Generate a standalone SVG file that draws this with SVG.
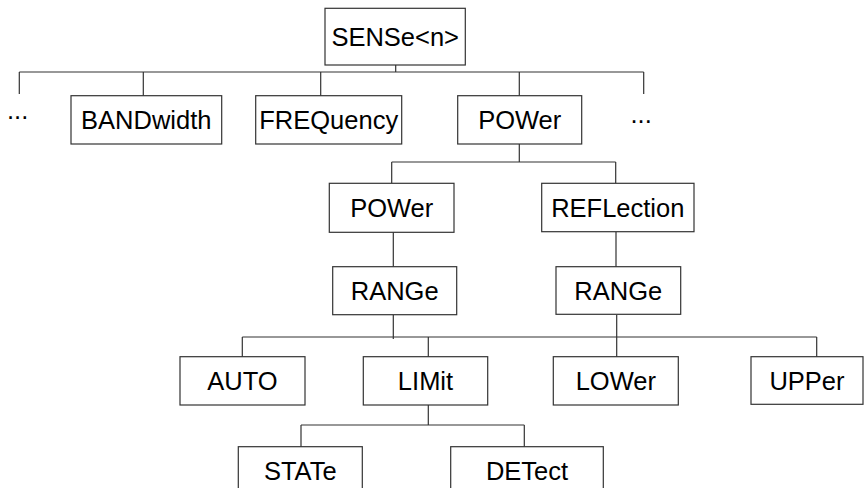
<svg xmlns="http://www.w3.org/2000/svg" width="864" height="488" viewBox="0 0 864 488">
<style>
.box{fill:#fff;stroke:#333;stroke-width:1.2}
.lbl{font-family:"Liberation Sans",Arial,sans-serif;font-size:25.5px;fill:#000;text-anchor:middle}
.dots{font-family:"Liberation Sans",Arial,sans-serif;font-size:25.5px;fill:#000}
#connectors path{fill:none;stroke:#333;stroke-width:1.2}
</style>
<rect width="864" height="488" fill="#fff"/>
<g id="connectors">
<path d="M395.7,65V72M19.3,72H643.7M19.3,72V94M143.3,72V96M320.7,72V96M519.3,72V96M643.7,72V94"/>
<path d="M519.3,144V162M391.7,162H615.7M391.7,162V183M615.7,162V183"/>
<path d="M393.3,232V267M616,232V267"/>
<path d="M393.3,315V339M616.7,315V357M242.3,337H816.7M242.3,337V357M428.3,337V357M816.7,337V357"/>
<path d="M428.3,405V425M301,425H524.3M301,425V447M524.3,425V447"/>
</g>
<g id="sense"><rect class="box" x="325" y="8.3" width="140.3" height="56.7"/><text class="lbl" x="395.2" y="45.5">SENSe&lt;n&gt;</text></g>
<g id="dots-left"><text class="dots" x="7" y="118.5">...</text></g>
<g id="bandwidth"><rect class="box" x="71" y="95.7" width="150.7" height="48.3"/><text class="lbl" x="146.3" y="128.5">BANDwidth</text></g>
<g id="frequency"><rect class="box" x="255.7" y="95.7" width="146" height="48.3"/><text class="lbl" x="328.7" y="128.5">FREQuency</text></g>
<g id="power"><rect class="box" x="457.7" y="95.7" width="124" height="48.3"/><text class="lbl" x="519.7" y="128.5">POWer</text></g>
<g id="dots-right"><text class="dots" x="630.5" y="123">...</text></g>
<g id="power2"><rect class="box" x="329.3" y="183.3" width="124.7" height="49"/><text class="lbl" x="391.7" y="216.5">POWer</text></g>
<g id="reflection"><rect class="box" x="541.7" y="183.3" width="152.3" height="48.4"/><text class="lbl" x="617.8" y="216.5">REFLection</text></g>
<g id="range1"><rect class="box" x="332.7" y="266.7" width="124" height="48"/><text class="lbl" x="394.7" y="299.5">RANGe</text></g>
<g id="range2"><rect class="box" x="556" y="266.7" width="124.7" height="47.6"/><text class="lbl" x="618.3" y="299.5">RANGe</text></g>
<g id="auto"><rect class="box" x="180" y="356.7" width="125" height="48.3"/><text class="lbl" x="242.5" y="389.5">AUTO</text></g>
<g id="limit"><rect class="box" x="363.3" y="356.7" width="124.4" height="48.3"/><text class="lbl" x="425.5" y="389.5">LIMit</text></g>
<g id="lower"><rect class="box" x="553.3" y="356.7" width="125" height="48.3"/><text class="lbl" x="615.8" y="389.5">LOWer</text></g>
<g id="upper"><rect class="box" x="751" y="356.7" width="112" height="47.6"/><text class="lbl" x="807" y="389.5">UPPer</text></g>
<g id="state"><rect class="box" x="238.3" y="446.7" width="124" height="50"/><text class="lbl" x="300.3" y="479.5">STATe</text></g>
<g id="detect"><rect class="box" x="450.7" y="446.7" width="152.6" height="50"/><text class="lbl" x="527" y="479.5">DETect</text></g>
</svg>
